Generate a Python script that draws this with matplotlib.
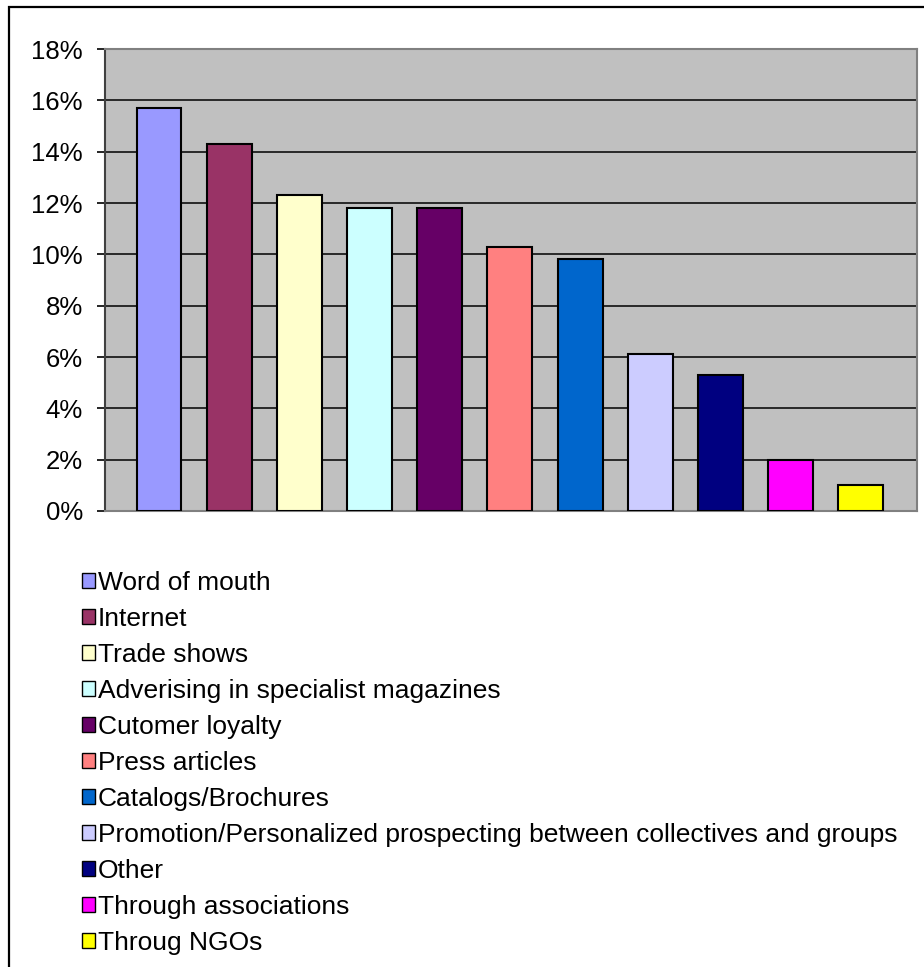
import matplotlib
matplotlib.use("Agg")
import matplotlib.pyplot as plt
import matplotlib.ticker as ticker
from matplotlib.patches import Patch, Rectangle

plt.rcParams['font.family'] = ['Liberation Sans', 'DejaVu Sans']

# 응답 비율 (%)
sources = ['Word of mouth', 'Internet', 'Trade shows',
           'Adverising in specialist magazines', 'Cutomer loyalty',
           'Press articles', 'Catalogs/Brochures',
           'Promotion/Personalized prospecting between collectives and groups',
           'Other', 'Through associations', 'Throug NGOs']
shares = [15.7, 14.3, 12.3, 11.8, 11.8, 10.3, 9.8, 6.1, 5.3, 2.0, 1.0]
colors = ['#9999FF', '#993366', '#FFFFCC', '#CCFFFF', '#660066', '#FF8080',
          '#0066CC', '#CCCCFF', '#000080', '#FF00FF', '#FFFF00']
yticks = [0, 2, 4, 6, 8, 10, 12, 14, 16, 18]

W, H = 924, 967
fs = 18.5
fig = plt.figure(figsize=(W / 100, H / 100), dpi=100)

# 바깥 테두리
fig.patches.append(Rectangle((9 / W, -0.1), 1.2, 1 - 7 / H + 0.1,
                             transform=fig.transFigure, fill=False,
                             edgecolor='black', linewidth=1.6))

ax = fig.add_axes([105 / W, 1 - 511 / H, (917 - 105) / W, (511 - 49) / H])
ax.set_facecolor('#C0C0C0')

x = list(range(len(shares)))
ax.bar(x, shares, width=0.64, color=colors, edgecolor='black',
       linewidth=1.5, zorder=3)

ax.set_xlim(-0.77, 10.8)
ax.set_ylim(0, 18)
ax.set_yticks(yticks)
ax.yaxis.set_major_formatter(ticker.FuncFormatter(lambda v, p: f'{v:.0f}%'))
ax.set_xticks([])
ax.tick_params(axis='y', direction='out', length=6, width=1.2, pad=10,
               labelsize=fs, color='black')
ax.yaxis.grid(True, color='black', linewidth=1.1, zorder=1)
ax.set_axisbelow(True)

for side in ['top', 'right', 'bottom']:
    ax.spines[side].set_color('#808080')
    ax.spines[side].set_linewidth(1.5)
ax.spines['left'].set_color('#404040')
ax.spines['left'].set_linewidth(1.5)

# 범례
handles = [Patch(facecolor=c, edgecolor='black', linewidth=1.0) for c in colors]
fig.legend(handles, sources, loc='upper left',
           bbox_to_anchor=(82 / W, 1 - 571 / H), frameon=False,
           fontsize=19, handlelength=0.48, handleheight=0.48,
           handletextpad=0.12, labelspacing=0.455, borderpad=0,
           borderaxespad=0)

fig.savefig('out.png', dpi=100)
